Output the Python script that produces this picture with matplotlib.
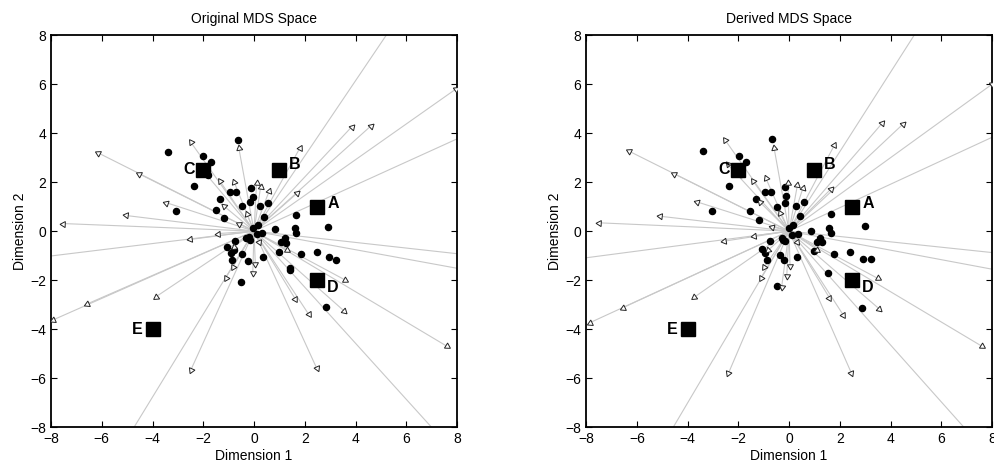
import numpy as np
import matplotlib
matplotlib.use("Agg")
import matplotlib.pyplot as plt

plt.rcParams['font.family'] = ['Liberation Sans', 'DejaVu Sans']

# reference objects (squares), same in both panels
obj_labels = ['A', 'B', 'C', 'D', 'E']
obj_x = [2.5, 1.0, -2.0, 2.5, -4.0]
obj_y = [1.0, 2.5, 2.5, -2.0, -4.0]

# original MDS space: stimuli (dots)
orig_dot_x = [-3.41, -2.02, -1.69, -1.82, -2.37, -0.63, -1.34, -0.93, -0.71, -1.51, -1.19, -3.06,
              -0.12, -0.05, -0.16, -0.47, 0.24, 0.56, 0.38, 0.15, -0.03, 0.84, 1.64, 1.60, 1.65,
              2.90, 0.10, 0.33, -0.33, -0.19, -0.16, 1.23, -0.75, 1.06, 1.26, -1.08, -0.79, -0.46,
              -0.92, -0.88, 0.97, 0.34, 1.40, 1.84, 2.47, 2.95, 3.23, -0.25, 1.42, -0.50, 2.82]
orig_dot_y = [3.24, 3.06, 2.82, 2.29, 1.85, 3.71, 1.32, 1.59, 1.59, 0.86, 0.52, 0.82,
              1.78, 1.40, 1.18, 1.03, 1.03, 1.14, 0.57, 0.24, 0.11, 0.07, 0.67, 0.11, -0.09,
              0.15, -0.13, -0.07, -0.30, -0.23, -0.37, -0.26, -0.39, -0.45, -0.50, -0.64, -0.78, -0.94,
              -0.89, -1.18, -0.84, -1.05, -1.52, -0.94, -0.84, -1.05, -1.17, -1.21, -1.59, -2.08, -3.09]

# original MDS space: property vectors (tips)
orig_vec_x = [-6.15, -4.53, -2.49, -3.48, -5.05, -7.52, -1.34, -0.78, -1.19, -0.60, -0.60, 1.81,
              0.10, 0.26, 0.60, 1.71, -0.29, -1.43, -2.52, 0.20, 1.29, -0.79, -0.84, 0.05,
              3.85, 4.62, -6.59, -7.93, -3.85, -2.49, -1.11, -0.05, 3.60, 1.63, 2.15, 3.56,
              2.47, 7.60, 7.95, -2.15, 5.60, 8.60, -8.60, -4.90, 7.25, 8.60, 8.60]
orig_vec_y = [3.20, 2.34, 3.63, 1.17, 0.64, 0.31, 2.04, 2.00, 1.03, 3.40, 0.31, 3.40,
              1.95, 1.81, 1.65, 1.56, 0.72, -0.10, -0.34, -0.44, -0.78, -0.64, -1.48, -1.34,
              4.26, 4.31, -2.98, -3.63, -2.67, -5.67, -1.90, -1.73, -2.00, -2.78, -3.39, -3.27,
              -5.60, -4.70, 5.80, 2.65, 8.60, 4.05, -1.09, -8.30, -8.30, -0.99, -1.63]

# derived MDS space: stimuli (dots)
der_dot_x = [-3.39, -1.98, -1.71, -1.90, -2.35, -0.67, -1.31, -0.93, -0.70, -1.54, -1.17, -3.03,
             -0.16, -0.12, -0.17, -0.49, 0.26, 0.60, 0.42, 0.17, 0.00, 0.87, 0.10, 0.37, -0.29,
             -0.22, -0.16, -0.76, 1.22, 1.29, 1.09, 1.58, 1.64, 1.66, 2.41, 1.79, 0.99, -1.05,
             -0.95, -0.36, 0.33, -0.86, -0.20, 3.00, 2.91, 3.22, 1.55, -0.46, 2.87]
der_dot_y = [3.28, 3.06, 2.82, 2.35, 1.85, 3.76, 1.32, 1.60, 1.60, 0.82, 0.44, 0.82,
             1.80, 1.42, 1.14, 0.99, 1.02, 1.18, 0.61, 0.27, 0.11, 0.00, -0.16, -0.13, -0.26,
             -0.37, -0.40, -0.41, -0.26, -0.46, -0.46, 0.14, -0.09, 0.72, -0.84, -0.94, -0.80, -0.71,
             -0.91, -0.98, -1.05, -1.18, -1.18, 0.20, -1.12, -1.12, -1.69, -2.23, -3.13]

# derived MDS space: property vectors (tips)
der_vec_x = [-6.31, -4.54, -2.51, -2.42, -3.64, -5.09, -7.48, -1.42, -0.92, -1.14, -0.59, -0.04,
             0.33, 0.55, -0.36, -0.67, -1.38, -2.56, 0.33, 1.12, -0.82, -0.97, 0.04, 3.68,
             4.51, 1.78, 1.64, -6.56, -7.85, -3.75, -2.39, -1.12, -0.29, -0.09, 3.50, 1.59,
             2.14, 3.56, 2.45, 7.60, 8.00, 5.30, 8.60, -8.60, -4.90, 7.40, 8.60, 8.60]
der_vec_y = [3.27, 2.35, 3.71, 2.73, 1.20, 0.61, 0.34, 2.05, 2.18, 1.18, 3.40, 1.95,
             1.88, 1.77, 0.76, 0.18, -0.19, -0.41, -0.44, -0.76, -0.78, -1.46, -1.42, 4.42,
             4.39, 3.50, 1.71, -3.13, -3.74, -2.71, -5.81, -1.93, -2.27, -1.84, -1.93, -2.72,
             -3.43, -3.18, -5.78, -4.70, 6.00, 8.60, 4.12, -1.17, -8.60, -8.60, -0.94, -1.67]

# label offsets for squares (points)
label_offsets = {'A': (7, 2), 'B': (7, 4), 'C': (-6, 0), 'D': (7, -5), 'E': (-7, 0)}


def draw_panel(ax, title, dot_x, dot_y, vec_x, vec_y):
    for vx, vy in zip(vec_x, vec_y):
        ax.plot([0, vx], [0, vy], color='#c8c8c8', linewidth=0.8, zorder=1)
    for vx, vy in zip(vec_x, vec_y):
        ang = np.degrees(np.arctan2(vy, vx)) - 90
        ax.plot(vx, vy, marker=(3, 0, ang), markersize=5, markerfacecolor='white',
                markeredgecolor='#222222', markeredgewidth=0.7, linestyle='none', zorder=3)
    ax.plot(dot_x, dot_y, 'o', color='black', markersize=4.4, linestyle='none', zorder=2)
    ax.plot(obj_x, obj_y, 's', color='black', markersize=10, linestyle='none', zorder=4)
    for lab, x, y in zip(obj_labels, obj_x, obj_y):
        dx, dy = label_offsets[lab]
        ax.annotate(lab, (x, y), xytext=(dx, dy), textcoords='offset points',
                    ha='left' if dx > 0 else 'right', va='center',
                    fontsize=11.5, fontweight='bold', zorder=5)
    ax.set_xlim(-8, 8)
    ax.set_ylim(-8, 8)
    ax.set_xticks(np.arange(-8, 9, 2))
    ax.set_yticks(np.arange(-8, 9, 2))
    ax.tick_params(direction='in', top=True, right=True, labelsize=10, length=4, width=0.8)
    for s in ax.spines.values():
        s.set_linewidth(1.3)
    ax.set_title(title, fontsize=10, pad=9)
    ax.set_xlabel('Dimension 1', fontsize=10, labelpad=2)
    ax.set_ylabel('Dimension 2', fontsize=10, labelpad=2)


fig = plt.figure(figsize=(9.95, 4.68), dpi=100)
ax1 = fig.add_axes([0.0513, 0.0876, 0.408, 0.837])
ax2 = fig.add_axes([0.589, 0.0876, 0.408, 0.837])

draw_panel(ax1, 'Original MDS Space', orig_dot_x, orig_dot_y, orig_vec_x, orig_vec_y)
draw_panel(ax2, 'Derived MDS Space', der_dot_x, der_dot_y, der_vec_x, der_vec_y)

fig.savefig('out.png', dpi=100)
